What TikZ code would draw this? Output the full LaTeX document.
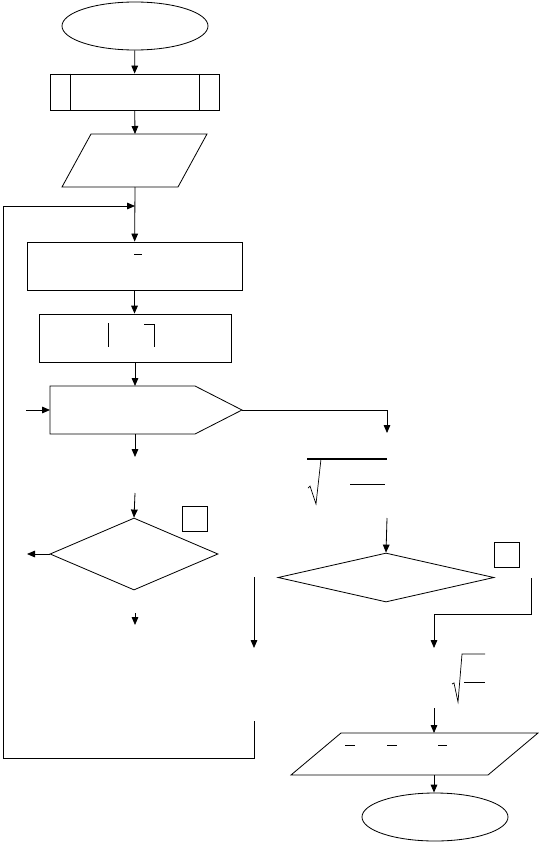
\documentclass[tikz,border=0pt]{standalone}
\usepackage{tikz}
\usetikzlibrary{arrows.meta,shapes.geometric}

\begin{document}
\begin{tikzpicture}[
    x=0.03cm, y=-0.03cm,
    line width=0.7pt,
    term/.style={draw, ellipse, inner sep=0pt, minimum width=4.38cm, minimum height=1.44cm},
    proc/.style={draw, rectangle, inner sep=0pt},
    dec/.style={draw, diamond, inner sep=0pt},
    sq/.style={draw, rectangle, inner sep=0pt, minimum size=0.75cm, line width=0.5pt},
    arr/.style={-{Triangle[length=2.4mm,width=2mm]}},
    frag/.style={line width=0.6pt}
]
    \useasboundingbox (0,0) rectangle (539,843);

    % main column
    \node[term] (start) at (135,26) {};
    \node[proc, minimum width=5.07cm, minimum height=1.08cm] (init) at (134.5,92) {};
    \draw ([xshift=0.63cm]init.north west) -- ([xshift=0.63cm]init.south west);
    \draw ([xshift=-0.6cm]init.north east) -- ([xshift=-0.6cm]init.south east);
    % input parallelogram
    \draw (91,134) -- (207,134) -- (178,187) -- (62,187) -- cycle;
    \coordinate (readN) at (135,134);
    \coordinate (readS) at (135,187);
    \node[proc, minimum width=6.45cm, minimum height=1.44cm] (mean) at (134.5,266) {};
    \node[proc, minimum width=5.76cm, minimum height=1.44cm] (dev) at (135,338) {};
    % loop block
    \draw (50,386) -- (195,386) -- (242,410) -- (195,434) -- (50,434) -- cycle;
    \coordinate (loopN) at (135,386);
    \coordinate (loopS) at (135,434);
    \coordinate (loopW) at (50,410);
    \coordinate (loopE) at (242,410);
    \node[dec, minimum width=5.04cm, minimum height=2.16cm] (testL) at (134,554) {};
    \node[sq] (sqL) at (194.5,518.5) {};

    % right column
    \node[dec, minimum width=6.48cm, minimum height=1.47cm] (testR) at (386,577.5) {};
    \node[sq] (sqR) at (506.5,554.5) {};
    % output parallelogram
    \draw (341,733) -- (538,733) -- (488,775) -- (291,775) -- cycle;
    \coordinate (outN) at (434,733);
    \coordinate (outS) at (434,775);
    \node[term] (stop) at (435,817) {};

    % free ends
    \coordinate (merge) at (135,206);
    \coordinate (ret) at (3,206);
    \coordinate (inL) at (26,410);
    \coordinate (turn) at (387,410);
    \coordinate (sA) at (387,433);
    \coordinate (sB) at (387,518);
    \coordinate (lA) at (135,457);
    \coordinate (lB) at (135,493);
    \coordinate (noL) at (27,554);
    \coordinate (lC) at (135,613);
    \coordinate (lD) at (135,625);
    \coordinate (mA) at (254,577);
    \coordinate (mB) at (254,648);
    \coordinate (mC) at (254,721);
    \coordinate (mD) at (254,758);
    \coordinate (rA) at (531,578);
    \coordinate (rB) at (434,614);
    \coordinate (rC) at (434,648);
    \coordinate (rD) at (434,708);

    % connectors
    \draw[arr] (start) -- (init);
    \draw[arr] (init) -- (readN);
    \draw[arr] (readS) -- (mean);
    \draw[arr] (mean) -- (mean.south |- dev.north);
    \draw[arr] (dev) -- (loopN);
    \draw[arr] (inL) -- (loopW);
    \draw[arr] (loopE) -- (turn) -- (sA);
    \draw[arr] (loopS) -- (lA);
    \draw[arr] (lB) -- (testL.north);
    \draw[arr] (testL.west) -- (noL);
    \draw[arr] (lC) -- (lD);
    \draw[arr] (mA) -- (mB);
    \draw[arr] (mC) -- (mD) -- (mD -| ret) -- (ret) -- (merge);
    \draw[arr] (sB) -- (testR.north);
    \draw[arr] (rA) |- (rB) -- (rC);
    \draw[arr] (rD) -- (outN);
    \draw[arr] (outS) -- (stop.north -| outS);

    % formula strokes
    \draw[frag] (134,254) -- (142,254);
    \draw[frag] (108,323) -- (108,347);
    \draw[frag] (144,324) -- (154,324) -- (154,347);
    \draw[frag] (308,488) -- (310,486) -- (316,504) -- (321,459);
    \draw[line width=1.3pt] (307,459) -- (387,459);
    \draw[frag] (350,484) -- (385,484);
    \draw[frag] (452,684) -- (454,683) -- (458,702) -- (462,654) -- (485,654);
    \draw[frag] (464,682) -- (485,682);
    \draw[frag] (345,745) -- (355,745);
    \draw[frag] (387,745) -- (397,745);
    \draw[frag] (438,745) -- (447,745);
\end{tikzpicture}
\end{document}
